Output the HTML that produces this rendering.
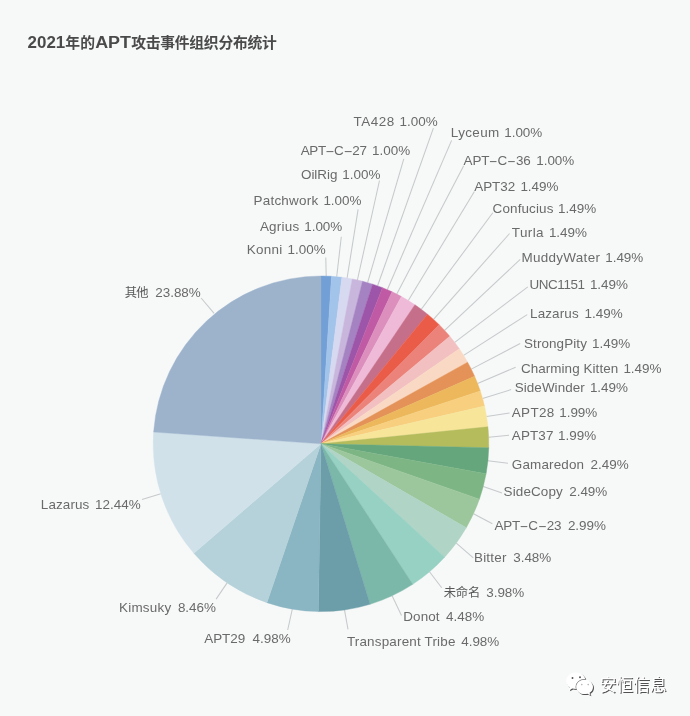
<!DOCTYPE html>
<html><head><meta charset="utf-8"><title>2021年的APT攻击事件组织分布统计</title>
<style>
html,body{margin:0;padding:0;background:#f7f8f8;}
body{width:690px;height:716px;overflow:hidden;position:relative;font-family:"Liberation Sans","Noto Sans CJK SC",sans-serif;}
svg{position:absolute;left:0;top:0;display:block}
.lbl text{font-size:13.45px;fill:#6a6a6a;font-family:"Liberation Sans","Noto Sans CJK SC",sans-serif;}
.lbl .cj{font-size:12.3px;fill:#585858;}
.ldr line{stroke:#c6cacc;stroke-width:1.05;}
.title{font-size:14.8px;font-weight:bold;fill:#4a4a4a;font-family:"Liberation Sans","Noto Sans CJK SC",sans-serif;}
.title .la{font-size:16px;}
.wm{font-size:16.6px;font-family:"Liberation Sans","Noto Sans CJK SC",sans-serif;}
</style></head><body>
<svg width="690" height="716" viewBox="0 0 690 716">
<rect width="690" height="716" fill="#f7f8f8"/>
<text class="title"><tspan class="la" x="27.6" y="48.4" textLength="37.6" lengthAdjust="spacingAndGlyphs">2021</tspan><tspan x="65.3" y="48.3" textLength="29.8" lengthAdjust="spacing">年的</tspan><tspan class="la" x="95.2" y="48.4" textLength="35.8" lengthAdjust="spacingAndGlyphs">APT</tspan><tspan x="131.2" y="48.3" textLength="145.6" lengthAdjust="spacing">攻击事件组织分布统计</tspan></text>
<g class="ldr">
<line x1="326.2" y1="276.1" x2="325.8" y2="257.4"/>
<line x1="336.7" y1="276.7" x2="341.3" y2="236.7"/>
<line x1="347.1" y1="278.0" x2="358.1" y2="209.3"/>
<line x1="357.4" y1="280.0" x2="379.5" y2="180.5"/>
<line x1="367.6" y1="282.6" x2="403.8" y2="158.8"/>
<line x1="377.6" y1="285.8" x2="433.4" y2="128.1"/>
<line x1="387.3" y1="289.7" x2="451.6" y2="140.4"/>
<line x1="396.8" y1="294.1" x2="463.7" y2="165.7"/>
<line x1="408.3" y1="300.5" x2="474.4" y2="191.5"/>
<line x1="421.3" y1="309.3" x2="492.8" y2="212.8"/>
<line x1="433.5" y1="319.3" x2="509.6" y2="233.5"/>
<line x1="444.6" y1="330.4" x2="520.2" y2="259.4"/>
<line x1="454.7" y1="342.4" x2="527.8" y2="286.9"/>
<line x1="463.6" y1="355.4" x2="527.2" y2="314.6"/>
<line x1="471.3" y1="369.1" x2="520.2" y2="343.5"/>
<line x1="477.6" y1="383.5" x2="515.6" y2="367.3"/>
<line x1="482.6" y1="398.5" x2="511.1" y2="389.6"/>
<line x1="486.5" y1="416.4" x2="509.6" y2="413.0"/>
<line x1="488.7" y1="437.2" x2="509.0" y2="435.2"/>
<line x1="487.9" y1="460.8" x2="508.0" y2="463.2"/>
<line x1="483.3" y1="486.6" x2="502.0" y2="493.0"/>
<line x1="473.5" y1="513.7" x2="492.4" y2="523.7"/>
<line x1="456.3" y1="543.1" x2="473.3" y2="557.8"/>
<line x1="429.5" y1="571.8" x2="441.7" y2="587.7"/>
<line x1="392.1" y1="595.8" x2="401.5" y2="615.6"/>
<line x1="344.5" y1="609.9" x2="348.0" y2="629.3"/>
<line x1="292.3" y1="609.1" x2="287.7" y2="630.0"/>
<line x1="227.1" y1="582.9" x2="216.1" y2="599.1"/>
<line x1="160.8" y1="493.8" x2="142.0" y2="499.6"/>
<line x1="214.1" y1="313.3" x2="201.1" y2="298.0"/>
</g>
<g class="pie">
<path d="M321.0,443.8L321.00,276.00A167.8,167.8 0 0 1 331.48,276.33Z" fill="#729fd6" stroke="#729fd6" stroke-width="0.4"/>
<path d="M321.0,443.8L331.48,276.33A167.8,167.8 0 0 1 341.93,277.31Z" fill="#a2c4ea" stroke="#a2c4ea" stroke-width="0.4"/>
<path d="M321.0,443.8L341.93,277.31A167.8,167.8 0 0 1 352.29,278.94Z" fill="#d6d9ef" stroke="#d6d9ef" stroke-width="0.4"/>
<path d="M321.0,443.8L352.29,278.94A167.8,167.8 0 0 1 362.53,281.22Z" fill="#c9b6dc" stroke="#c9b6dc" stroke-width="0.4"/>
<path d="M321.0,443.8L362.53,281.22A167.8,167.8 0 0 1 372.60,284.13Z" fill="#a583c3" stroke="#a583c3" stroke-width="0.4"/>
<path d="M321.0,443.8L372.60,284.13A167.8,167.8 0 0 1 382.48,287.67Z" fill="#9c55a8" stroke="#9c55a8" stroke-width="0.4"/>
<path d="M321.0,443.8L382.48,287.67A167.8,167.8 0 0 1 392.11,291.81Z" fill="#c05aa5" stroke="#c05aa5" stroke-width="0.4"/>
<path d="M321.0,443.8L392.11,291.81A167.8,167.8 0 0 1 401.47,296.55Z" fill="#dc8fbd" stroke="#dc8fbd" stroke-width="0.4"/>
<path d="M321.0,443.8L401.47,296.55A167.8,167.8 0 0 1 414.91,304.74Z" fill="#efbad8" stroke="#efbad8" stroke-width="0.4"/>
<path d="M321.0,443.8L414.91,304.74A167.8,167.8 0 0 1 427.51,314.14Z" fill="#c66f8a" stroke="#c66f8a" stroke-width="0.4"/>
<path d="M321.0,443.8L427.51,314.14A167.8,167.8 0 0 1 439.19,324.68Z" fill="#ea5c48" stroke="#ea5c48" stroke-width="0.4"/>
<path d="M321.0,443.8L439.19,324.68A167.8,167.8 0 0 1 449.82,336.28Z" fill="#ec837b" stroke="#ec837b" stroke-width="0.4"/>
<path d="M321.0,443.8L449.82,336.28A167.8,167.8 0 0 1 459.33,348.81Z" fill="#f2c0c0" stroke="#f2c0c0" stroke-width="0.4"/>
<path d="M321.0,443.8L459.33,348.81A167.8,167.8 0 0 1 467.61,362.18Z" fill="#fad9c4" stroke="#fad9c4" stroke-width="0.4"/>
<path d="M321.0,443.8L467.61,362.18A167.8,167.8 0 0 1 474.61,376.27Z" fill="#e49258" stroke="#e49258" stroke-width="0.4"/>
<path d="M321.0,443.8L474.61,376.27A167.8,167.8 0 0 1 480.26,390.95Z" fill="#ecb85b" stroke="#ecb85b" stroke-width="0.4"/>
<path d="M321.0,443.8L480.26,390.95A167.8,167.8 0 0 1 484.51,406.10Z" fill="#f7cf7e" stroke="#f7cf7e" stroke-width="0.4"/>
<path d="M321.0,443.8L484.51,406.10A167.8,167.8 0 0 1 487.93,426.78Z" fill="#f7e59a" stroke="#f7e59a" stroke-width="0.4"/>
<path d="M321.0,443.8L487.93,426.78A167.8,167.8 0 0 1 488.75,447.73Z" fill="#b5bc5c" stroke="#b5bc5c" stroke-width="0.4"/>
<path d="M321.0,443.8L488.75,447.73A167.8,167.8 0 0 1 486.10,473.80Z" fill="#65a67c" stroke="#65a67c" stroke-width="0.4"/>
<path d="M321.0,443.8L486.10,473.80A167.8,167.8 0 0 1 479.41,499.13Z" fill="#7db585" stroke="#7db585" stroke-width="0.4"/>
<path d="M321.0,443.8L479.41,499.13A167.8,167.8 0 0 1 466.32,527.70Z" fill="#9cc79c" stroke="#9cc79c" stroke-width="0.4"/>
<path d="M321.0,443.8L466.32,527.70A167.8,167.8 0 0 1 444.64,557.24Z" fill="#b0d4c5" stroke="#b0d4c5" stroke-width="0.4"/>
<path d="M321.0,443.8L444.64,557.24A167.8,167.8 0 0 1 412.72,584.31Z" fill="#96d1c3" stroke="#96d1c3" stroke-width="0.4"/>
<path d="M321.0,443.8L412.72,584.31A167.8,167.8 0 0 1 370.10,604.26Z" fill="#7bb8a9" stroke="#7bb8a9" stroke-width="0.4"/>
<path d="M321.0,443.8L370.10,604.26A167.8,167.8 0 0 1 318.38,611.58Z" fill="#6c9eaa" stroke="#6c9eaa" stroke-width="0.4"/>
<path d="M321.0,443.8L318.38,611.58A167.8,167.8 0 0 1 266.91,602.64Z" fill="#8ab5c2" stroke="#8ab5c2" stroke-width="0.4"/>
<path d="M321.0,443.8L266.91,602.64A167.8,167.8 0 0 1 193.87,553.32Z" fill="#b5d1d9" stroke="#b5d1d9" stroke-width="0.4"/>
<path d="M321.0,443.8L193.87,553.32A167.8,167.8 0 0 1 153.61,432.01Z" fill="#d0e1ea" stroke="#d0e1ea" stroke-width="0.4"/>
<path d="M321.0,443.8L153.61,432.01A167.8,167.8 0 0 1 321.00,276.00Z" fill="#9db3cc" stroke="#9db3cc" stroke-width="0.4"/>
</g>
<g class="lbl">
<text><tspan x="246.8" y="254.4" textLength="35.5" lengthAdjust="spacing">Konni</tspan> <tspan x="325.6" y="254.4" text-anchor="end">1.00%</tspan></text>
<text><tspan x="259.9" y="231.3" textLength="39.4" lengthAdjust="spacing">Agrius</tspan> <tspan x="342.3" y="231.3" text-anchor="end">1.00%</tspan></text>
<text><tspan x="253.5" y="204.8" textLength="64.7" lengthAdjust="spacing">Patchwork</tspan> <tspan x="361.5" y="204.8" text-anchor="end">1.00%</tspan></text>
<text><tspan x="301.0" y="179.0" textLength="36.4" lengthAdjust="spacing">OilRig</tspan> <tspan x="380.4" y="179.0" text-anchor="end">1.00%</tspan></text>
<text><tspan x="300.7" y="154.6" letter-spacing="-0.3">APT<tspan textLength="8.8" lengthAdjust="spacingAndGlyphs">-</tspan>C<tspan textLength="8.8" lengthAdjust="spacingAndGlyphs">-</tspan>27</tspan> <tspan x="410.2" y="154.6" text-anchor="end">1.00%</tspan></text>
<text><tspan x="353.6" y="125.7" textLength="40.7" lengthAdjust="spacing">TA428</tspan> <tspan x="437.6" y="125.7" text-anchor="end">1.00%</tspan></text>
<text><tspan x="450.8" y="136.8" textLength="48.5" lengthAdjust="spacing">Lyceum</tspan> <tspan x="542.3" y="136.8" text-anchor="end">1.00%</tspan></text>
<text><tspan x="463.5" y="165.4" letter-spacing="-0.08">APT<tspan textLength="8.8" lengthAdjust="spacingAndGlyphs">-</tspan>C<tspan textLength="8.8" lengthAdjust="spacingAndGlyphs">-</tspan>36</tspan> <tspan x="574.3" y="165.4" text-anchor="end">1.00%</tspan></text>
<text><tspan x="474.2" y="190.6" textLength="41.0" lengthAdjust="spacing">APT32</tspan> <tspan x="558.5" y="190.6" text-anchor="end">1.49%</tspan></text>
<text><tspan x="492.6" y="213.4" textLength="60.8" lengthAdjust="spacing">Confucius</tspan> <tspan x="596.1" y="213.4" text-anchor="end">1.49%</tspan></text>
<text><tspan x="511.8" y="237.2" textLength="31.8" lengthAdjust="spacing">Turla</tspan> <tspan x="587.0" y="237.2" text-anchor="end">1.49%</tspan></text>
<text><tspan x="521.5" y="261.5" textLength="78.4" lengthAdjust="spacing">MuddyWater</tspan> <tspan x="643.3" y="261.5" text-anchor="end">1.49%</tspan></text>
<text><tspan x="529.5" y="288.7" textLength="55.5" lengthAdjust="spacing">UNC1151</tspan> <tspan x="628.0" y="288.7" text-anchor="end">1.49%</tspan></text>
<text><tspan x="530.1" y="317.6" textLength="48.5" lengthAdjust="spacing">Lazarus</tspan> <tspan x="622.6" y="317.6" text-anchor="end">1.49%</tspan></text>
<text><tspan x="524.0" y="347.8" textLength="62.9" lengthAdjust="spacing">StrongPity</tspan> <tspan x="630.2" y="347.8" text-anchor="end">1.49%</tspan></text>
<text><tspan x="520.9" y="373.4" textLength="97.3" lengthAdjust="spacing">Charming Kitten</tspan> <tspan x="661.5" y="373.4" text-anchor="end">1.49%</tspan></text>
<text><tspan x="514.8" y="391.7" textLength="69.9" lengthAdjust="spacing">SideWinder</tspan> <tspan x="628.0" y="391.7" text-anchor="end">1.49%</tspan></text>
<text><tspan x="511.8" y="417.0" textLength="42.5" lengthAdjust="spacing">APT28</tspan> <tspan x="597.3" y="417.0" text-anchor="end">1.99%</tspan></text>
<text><tspan x="511.8" y="440.4" textLength="41.6" lengthAdjust="spacing">APT37</tspan> <tspan x="596.1" y="440.4" text-anchor="end">1.99%</tspan></text>
<text><tspan x="511.8" y="469.3" textLength="72.3" lengthAdjust="spacing">Gamaredon</tspan> <tspan x="628.6" y="469.3" text-anchor="end">2.49%</tspan></text>
<text><tspan x="503.6" y="496.1" textLength="59.2" lengthAdjust="spacing">SideCopy</tspan> <tspan x="607.3" y="496.1" text-anchor="end">2.49%</tspan></text>
<text><tspan x="494.4" y="529.5" letter-spacing="-0.1">APT<tspan textLength="8.8" lengthAdjust="spacingAndGlyphs">-</tspan>C<tspan textLength="8.8" lengthAdjust="spacingAndGlyphs">-</tspan>23</tspan> <tspan x="606.0" y="529.5" text-anchor="end">2.99%</tspan></text>
<text><tspan x="474.0" y="562.4" textLength="32.4" lengthAdjust="spacing">Bitter</tspan> <tspan x="551.3" y="562.4" text-anchor="end">3.48%</tspan></text>
<text><tspan class="cj" x="443.8" y="597.3" textLength="36.4" lengthAdjust="spacing">未命名</tspan> <tspan x="524.3" y="596.5" text-anchor="end">3.98%</tspan></text>
<text><tspan x="403.2" y="620.8" textLength="36.4" lengthAdjust="spacing">Donot</tspan> <tspan x="484.1" y="620.8" text-anchor="end">4.48%</tspan></text>
<text><tspan x="346.9" y="645.5" textLength="108.5" lengthAdjust="spacing">Transparent Tribe</tspan> <tspan x="499.3" y="645.5" text-anchor="end">4.98%</tspan></text>
<text><tspan x="204.2" y="643.0" textLength="41.0" lengthAdjust="spacing">APT29</tspan> <tspan x="290.6" y="643.0" text-anchor="end">4.98%</tspan></text>
<text><tspan x="119.0" y="612.0" textLength="52.2" lengthAdjust="spacing">Kimsuky</tspan> <tspan x="216.0" y="612.0" text-anchor="end">8.46%</tspan></text>
<text><tspan x="40.8" y="508.7" textLength="48.5" lengthAdjust="spacing">Lazarus</tspan> <tspan x="140.6" y="508.7" text-anchor="end">12.44%</tspan></text>
<text><tspan class="cj" x="124.7" y="297.3" textLength="23.9" lengthAdjust="spacing">其他</tspan> <tspan x="200.8" y="296.5" text-anchor="end">23.88%</tspan></text>
</g>
<g class="wmk">
<g transform="translate(1,1)" fill="#404040" opacity="0.9">
<path d="M575.8,672.6c-5.3,0-9.6,3.7-9.6,8.3c0,2.6,1.4,4.9,3.6,6.4l-0.9,2.9l3.4-1.8c1.1,0.3,2.3,0.5,3.5,0.5c5.3,0,9.6-3.7,9.6-8.3S581.1,672.6,575.8,672.6Z"/>
<path d="M584.6,679.7c-4.7,0-8.4,3.2-8.4,7.2s3.700,7.2,8.4,7.2c1,0,2-0.2,2.9-0.4l2.9,1.6l-0.8-2.5c2.1-1.3,3.400-3.400,3.400-5.900C593,682.900,589.300,679.700,584.600,679.700Z"/>
<text class="wm" x="599.7" y="690.8" textLength="66.8" lengthAdjust="spacing">安恒信息</text>
</g>
<g fill="#fff">
<path fill-rule="evenodd" d="M575.8,672.6c-5.3,0-9.6,3.7-9.6,8.3c0,2.6,1.4,4.9,3.6,6.4l-0.9,2.9l3.4-1.8c1.1,0.3,2.3,0.5,3.5,0.5c5.3,0,9.6-3.7,9.6-8.3S581.1,672.6,575.8,672.6ZM571.55,678.0a0.95,0.95 0 1 0 1.9,0a0.95,0.95 0 1 0 -1.9,0ZM579.05,677.2a0.95,0.95 0 1 0 1.9,0a0.95,0.95 0 1 0 -1.9,0Z"/>
<clipPath id="bc"><path d="M575.8,672.6c-5.3,0-9.6,3.7-9.6,8.3c0,2.6,1.4,4.9,3.6,6.4l-0.9,2.9l3.4-1.8c1.1,0.3,2.3,0.5,3.5,0.5c5.3,0,9.6-3.7,9.6-8.3S581.1,672.6,575.8,672.6Z"/></clipPath>
<path stroke="#777" stroke-width="1.3" fill="none" clip-path="url(#bc)" d="M584.6,679.7c-4.7,0-8.4,3.2-8.4,7.2s3.700,7.2,8.4,7.2c1,0,2-0.2,2.9-0.4l2.9,1.6l-0.8-2.5c2.1-1.3,3.400-3.400,3.400-5.900C593,682.900,589.300,679.700,584.600,679.700Z"/>
<path d="M584.6,679.7c-4.7,0-8.4,3.2-8.4,7.2s3.700,7.2,8.4,7.2c1,0,2-0.2,2.9-0.4l2.9,1.6l-0.8-2.5c2.1-1.3,3.400-3.400,3.400-5.900C593,682.900,589.300,679.700,584.600,679.700Z"/>
<circle cx="581.8" cy="684.6" r="0.8" fill="#b4b4b4"/><circle cx="588.2" cy="684.6" r="0.8" fill="#b4b4b4"/>
<text class="wm" x="599.7" y="690.8" textLength="66.8" lengthAdjust="spacing">安恒信息</text>
</g>
</g>
</svg>
</body></html>
